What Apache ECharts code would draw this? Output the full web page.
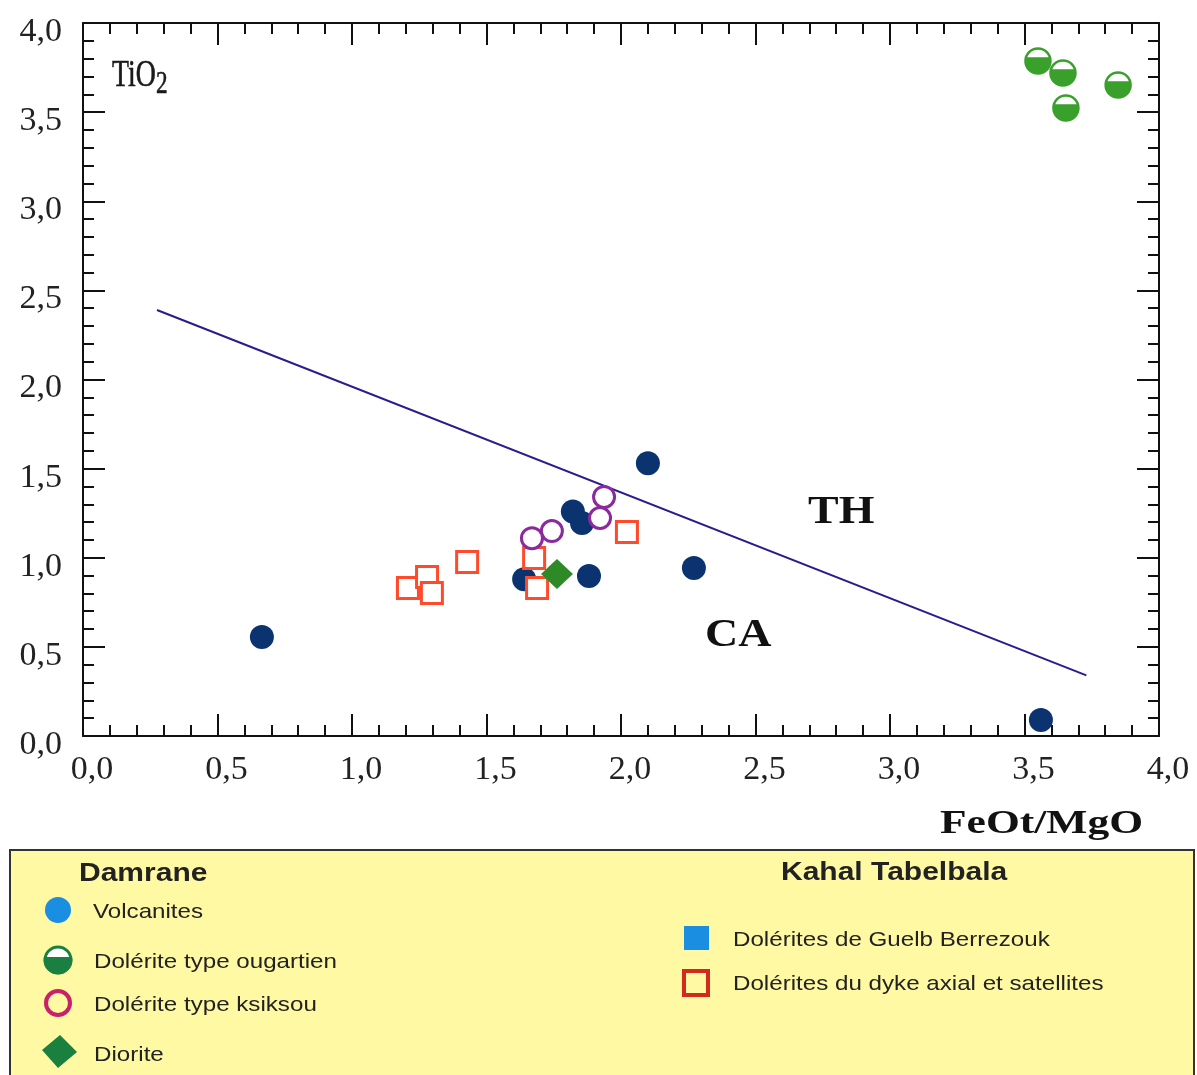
<!DOCTYPE html>
<html>
<head>
<meta charset="utf-8">
<script src="https://cdn.jsdelivr.net/npm/echarts@6/dist/echarts.min.js"></script>
<style>html,body{margin:0;padding:0;background:#fff;}#c{width:1197px;height:1075px;}</style>
</head>
<body>
<div id="c"></div>
<script>
// ---- data ----
var xTickLabels = ['0,0','0,5','1,0','1,5','2,0','2,5','3,0','3,5','4,0'];
var yTickLabels = ['0,0','0,5','1,0','1,5','2,0','2,5','3,0','3,5','4,0'];
var volcanites = [[0.665,0.555],[2.10,1.53],[1.821,1.26],[1.855,1.195],[1.64,0.88],[1.881,0.898],[2.271,0.943],[3.561,0.09]];
var ougartien = [[3.550,3.787],[3.643,3.72],[3.654,3.523],[3.848,3.652]];
var ksiksou = [[1.937,1.341],[1.922,1.223],[1.743,1.15],[1.669,1.11]];
var diorite = [[1.762,0.909]];
var dykeAxial = [[1.208,0.83],[1.279,0.892],[1.297,0.802],[1.428,0.976],[1.677,0.999],[1.688,0.83],[2.022,1.144]];
var lineX = [0.275, 3.73];
var lineY = [2.39, 0.34];
var divider = lineX.map(function(x,i){return [x, lineY[i]];});

var serif = "'Liberation Serif','Times New Roman',serif";
var sans = "'Liberation Sans',Arial,sans-serif";

var chart = echarts.init(document.getElementById('c'), null, {renderer:'canvas'});

function axisCommon(showLabel, labels, isX) {
  var lab = {
    show:showLabel,
    fontFamily:serif, fontSize:34, color:'#222',
    margin: isX ? 17 : 21,
    formatter:function(v){ return labels[Math.round(v/0.5)]; }
  };
  if (isX) {
    lab.padding = [0,0,0,18];
  } else {
    lab.verticalAlign = 'top';
    lab.lineHeight = 18;
  }
  return {
    type:'value', min:0, max:4, interval:0.5,
    axisLine:{show:true, onZero:false, lineStyle:{color:'#111', width:2}},
    axisTick:{show:true, inside:true, length:22, lineStyle:{color:'#111', width:2}},
    minorTick:{show:true, splitNumber:5, length:11, lineStyle:{color:'#111', width:2}},
    splitLine:{show:false},
    axisLabel:lab
  };
}

var xb = axisCommon(true, xTickLabels, true); xb.position='bottom';
var xt = axisCommon(false, xTickLabels, true); xt.position='top';
var yl = axisCommon(true, yTickLabels, false); yl.position='left';
var yr = axisCommon(false, yTickLabels, false); yr.position='right';

// lower chord (~60%) of a circle of radius 10 centred at (10,10)
var chordFill = 'path://M0.46,7 A10,10 0 1 0 19.54,7 Z';

// legend icon: lower chord polygon of a circle
function chordPoints(cx, cy, r, cut) {
  var a0 = Math.asin(-cut / r);
  var pts = [];
  var n = 40;
  for (var i = 0; i <= n; i++) {
    var a = a0 + (Math.PI - 2 * a0) * i / n;
    pts.push([cx + r * Math.cos(a), cy + r * Math.sin(a)]);
  }
  return pts;
}

var legendBg = '#fff9a3';

var option = {
  backgroundColor:'#fff',
  animation:false,
  grid:{left:83, right:38, top:23, bottom:339, containLabel:false},
  xAxis:[xb, xt],
  yAxis:[yl, yr],
  series:[
    {type:'line', data:divider, symbol:'none', lineStyle:{color:'#2b1b8c', width:2}, z:2, silent:true},
    {name:'Volcanites', type:'scatter', data:volcanites, symbol:'circle', symbolSize:24,
      itemStyle:{color:'#0b3370', opacity:1}, z:3},
    {name:'Dolérites du dyke axial et satellites', type:'scatter', data:dykeAxial, symbol:'rect', symbolSize:21,
      itemStyle:{color:'#ffffff', borderColor:'#ff4b2b', borderWidth:3, opacity:1}, z:4},
    {name:'Dolérite type ksiksou', type:'scatter', data:ksiksou, symbol:'circle', symbolSize:21,
      itemStyle:{color:'#ffffff', borderColor:'#8b2a9c', borderWidth:3, opacity:1}, z:5},
    {name:'Diorite', type:'scatter', data:diorite, symbol:'diamond', symbolSize:[32,30],
      itemStyle:{color:'#2e8a26', opacity:1}, z:6},
    {name:'Dolérite type ougartien', type:'scatter', data:ougartien, symbol:'circle', symbolSize:25,
      itemStyle:{color:'#ffffff', borderColor:'#3aa02c', borderWidth:2.5, opacity:1}, z:5},
    {name:'Dolérite type ougartien (fill)', type:'scatter', data:ougartien, symbol:chordFill, symbolSize:[25,16.3],
      symbolOffset:[0,4.4], symbolKeepAspect:false,
      itemStyle:{color:'#3aa02c', opacity:1}, z:6}
  ],
  graphic:[
    // plot annotations
    {type:'text', x:112, y:76, scaleX:0.75, style:{text:'TiO', font:'37px '+serif, fill:'#1a1a1a', stroke:'#1a1a1a', lineWidth:0.6, textVerticalAlign:'middle'}},
    {type:'text', x:156, y:85, scaleX:0.75, style:{text:'2', font:'31px '+serif, fill:'#1a1a1a', stroke:'#1a1a1a', lineWidth:0.6, textVerticalAlign:'middle'}},
    {type:'text', x:808, y:512, scaleX:1.12, style:{text:'TH', font:'bold 41px '+serif, fill:'#111', textVerticalAlign:'middle'}},
    {type:'text', x:705, y:636, scaleX:1.18, style:{text:'CA', font:'bold 39px '+serif, fill:'#111', textVerticalAlign:'middle'}},
    {type:'text', x:940, y:824, scaleX:1.28, style:{text:'FeOt/MgO', font:'bold 34px '+serif, fill:'#111', textVerticalAlign:'middle'}},
    // legend box
    {type:'rect', shape:{x:10, y:850, width:1184, height:240}, style:{fill:legendBg, stroke:'#333', lineWidth:2}},
    {type:'text', x:79, y:874, scaleX:1.2, style:{text:'Damrane', font:'bold 25px '+sans, fill:'#222', textVerticalAlign:'middle'}},
    {type:'text', x:781, y:873, scaleX:1.2, style:{text:'Kahal Tabelbala', font:'bold 25px '+sans, fill:'#222', textVerticalAlign:'middle'}},
    // Damrane items
    {type:'circle', shape:{cx:58, cy:910, r:13}, style:{fill:'#1a8ee0'}},
    {type:'text', x:93, y:912, scaleX:1.15, style:{text:'Volcanites', font:'21px '+sans, fill:'#222', textVerticalAlign:'middle'}},
    {type:'circle', shape:{cx:58, cy:960, r:13}, style:{fill:'#ffffff', stroke:'#1a8040', lineWidth:3}},
    {type:'polygon', shape:{points:chordPoints(58, 960, 14.3, 3)}, style:{fill:'#1a8040'}},
    {type:'text', x:94, y:962, scaleX:1.15, style:{text:'Dolérite type ougartien', font:'21px '+sans, fill:'#222', textVerticalAlign:'middle'}},
    {type:'circle', shape:{cx:58, cy:1003, r:12}, style:{fill:legendBg, stroke:'#c8206a', lineWidth:4}},
    {type:'text', x:94, y:1005, scaleX:1.15, style:{text:'Dolérite type ksiksou', font:'21px '+sans, fill:'#222', textVerticalAlign:'middle'}},
    {type:'polygon', shape:{points:[[60,1035],[77,1052],[58,1068],[42,1050]]}, style:{fill:'#1a8040'}},
    {type:'text', x:94, y:1055, scaleX:1.15, style:{text:'Diorite', font:'21px '+sans, fill:'#222', textVerticalAlign:'middle'}},
    // Kahal Tabelbala items
    {type:'rect', shape:{x:684, y:926, width:25, height:24}, style:{fill:'#1a8ee0'}},
    {type:'text', x:733, y:940, scaleX:1.15, style:{text:'Dolérites de Guelb Berrezouk', font:'21px '+sans, fill:'#222', textVerticalAlign:'middle'}},
    {type:'rect', shape:{x:684, y:971, width:24, height:24}, style:{fill:legendBg, stroke:'#d42a1e', lineWidth:4}},
    {type:'text', x:733, y:984, scaleX:1.15, style:{text:'Dolérites du dyke axial et satellites', font:'21px '+sans, fill:'#222', textVerticalAlign:'middle'}}
  ]
};
chart.setOption(option);
</script>
</body>
</html>
